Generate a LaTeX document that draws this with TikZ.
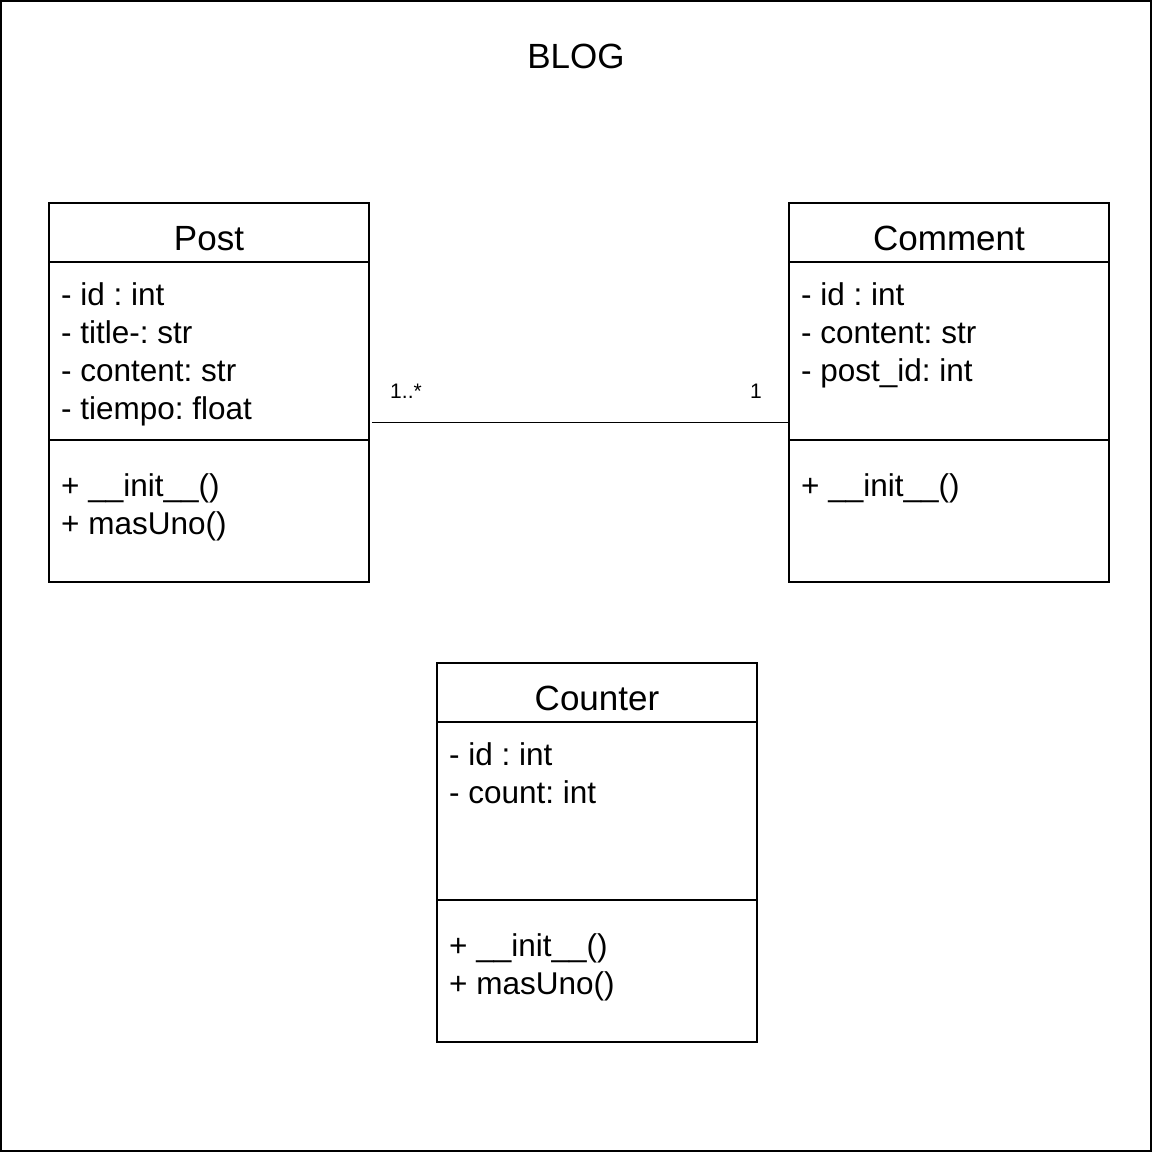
\documentclass[tikz,border=0pt]{standalone}
\usepackage{fontspec}
\setmainfont{Liberation Sans}
\frenchspacing
\usetikzlibrary{positioning}

\begin{document}
\begin{tikzpicture}[x=1pt, y=-1pt,
        umlbox/.style={draw, line width=1.6pt, minimum width=320pt, minimum height=379pt, inner sep=0pt},
        hdr/.style={font=\fontsize{35}{40}\selectfont, inner sep=0pt, anchor=base},
        attr/.style={font=\fontsize{31.5}{38}\selectfont, inner sep=0pt, anchor=base west},
        mult/.style={font=\fontsize{21}{25}\selectfont, inner sep=0pt, anchor=base},
        assoc/.style={line width=1.8pt}]
        \useasboundingbox (0,0) rectangle (1152,1152);
        \draw[line width=2pt] (1,1) rectangle (1151,1151);
        \node[hdr] (blog) at (576, 68) {BLOG};
        % classes
        \node[umlbox] (post) at (209, 392.5) {};
        \node[umlbox] (comment) at (949, 392.5) {};
        \node[umlbox] (counter) at (597, 852.5) {};
        \foreach \c in {post, comment, counter} {
          \draw[line width=1.6pt] ([yshift=-60pt]\c.north west) -- ([yshift=-60pt]\c.north east);
          \draw[line width=1.6pt] ([yshift=-238pt]\c.north west) -- ([yshift=-238pt]\c.north east);
        }
        \node[hdr] (posttitle) at (209, 250) {Post};
        \node[hdr] (commenttitle) at (949, 250) {Comment};
        \node[hdr] (countertitle) at (597, 710) {Counter};
        % Post
        \foreach \t [count=\i] in {- id : int, - title-: str, - content: str, - tiempo: float}
          \node[attr] (postattr\i) at (61, {305+38*(\i-1)}) {\t};
        \foreach \t [count=\i] in {+ \_\_init\_\_(), + masUno()}
          \node[attr] (postop\i) at (61, {496+38*(\i-1)}) {\t};
        % Comment
        \foreach \t [count=\i] in {- id : int, - content: str, - post\_id: int}
          \node[attr] (commentattr\i) at (801, {305+38*(\i-1)}) {\t};
        \node[attr] (commentop1) at (801, 496) {+ \_\_init\_\_()};
        % Counter
        \foreach \t [count=\i] in {- id : int, - count: int}
          \node[attr] (counterattr\i) at (449, {765+38*(\i-1)}) {\t};
        \foreach \t [count=\i] in {+ \_\_init\_\_(), + masUno()}
          \node[attr] (counterop\i) at (449, {956+38*(\i-1)}) {\t};
        % association
        \draw[assoc] ([xshift=2pt, yshift=-30pt]post.east) -- ([yshift=-30pt]comment.west);
        \node[mult] (multpost) at (406, 398) {1..*};
        \node[mult] (multcomment) at (756, 398) {1};
      \end{tikzpicture}
\end{document}
